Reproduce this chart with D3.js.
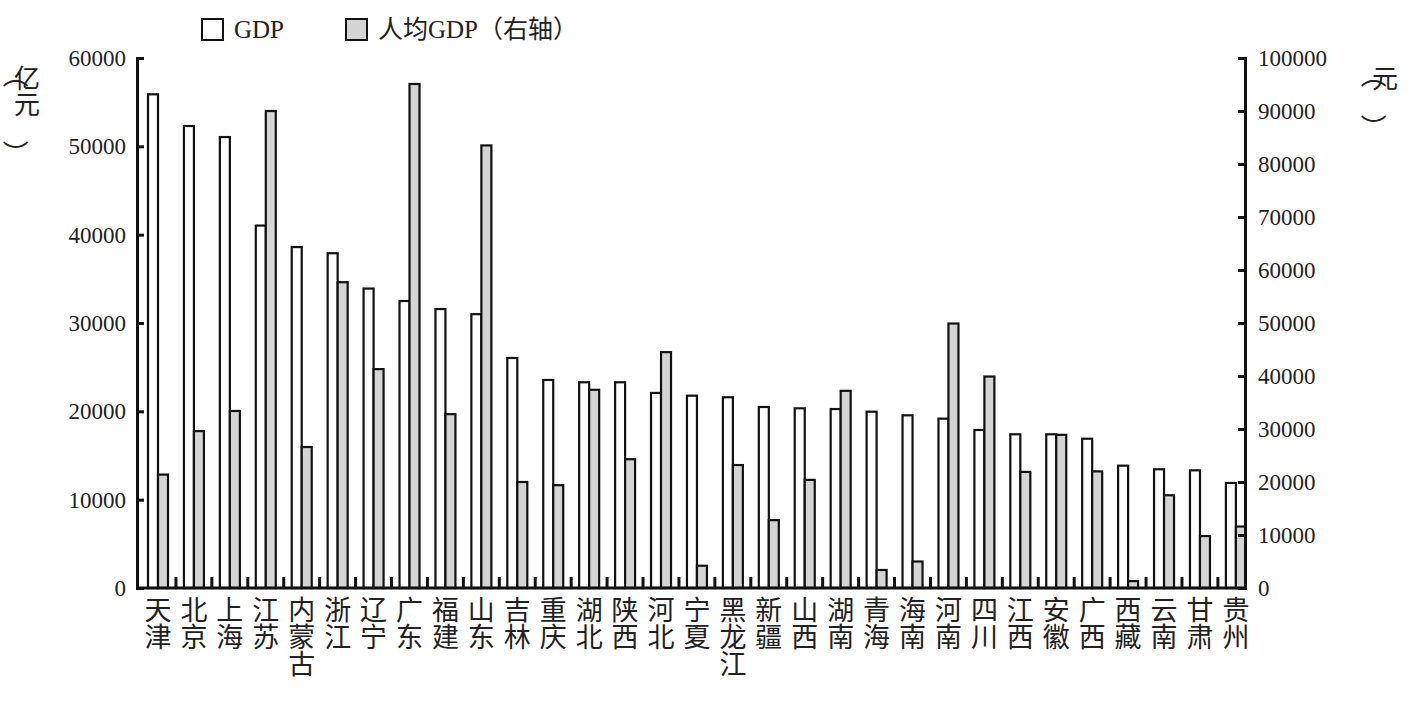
<!DOCTYPE html>
<html><head><meta charset="utf-8">
<script src="https://cdn.jsdelivr.net/npm/d3@7"></script>
<style>body{margin:0;background:#fff}text{font-family:"Liberation Serif","Noto Sans CJK SC",serif;fill:#222}</style>
</head><body><svg id="c" width="1412" height="705"></svg>
<script>
const provinces = ['天津','北京','上海','江苏','内蒙古','浙江','辽宁','广东','福建','山东','吉林','重庆','湖北','陕西','河北','宁夏','黑龙江','新疆','山西','湖南','青海','海南','河南','四川','江西','安徽','广西','西藏','云南','甘肃','贵州'];
const gdp = [55890,52300,51050,41030,38600,37900,33900,32490,31580,31000,26040,23550,23290,23290,22080,21770,21590,20490,20340,20260,19960,19550,19170,17890,17400,17400,16900,13850,13440,13320,11890];
const gdpPerCapita = [21400,29600,33400,90000,26600,57700,41300,95100,32800,83500,20000,19400,37400,24300,44500,4200,23200,12800,20400,37200,3400,5000,49900,39900,21900,28900,22000,1300,17500,9800,11600];
const leftTicks = d3.range(0, 60001, 10000);
const rightTicks = d3.range(0, 100001, 10000);

const svg = d3.select('#c');
const plotLeft = 137, plotRight = 1245, plotTop = 58, plotBottom = 588;
const step = 35.93;

const x = d3.scaleBand().domain(provinces).range([140, 140 + step * provinces.length]);
const yL = d3.scaleLinear().domain([0, 60000]).range([plotBottom, plotTop]);
const yR = d3.scaleLinear().domain([0, 100000]).range([plotBottom, plotTop]);
const bw = 10;

// bars
svg.append('g').selectAll('rect').data(provinces).join('rect')
	.attr('x', d => x(d) + 8).attr('width', bw)
	.attr('y', (d, i) => yL(gdp[i])).attr('height', (d, i) => plotBottom - yL(gdp[i]))
	.attr('fill', '#fff').attr('stroke', '#111').attr('stroke-width', 2.2);
svg.append('g').selectAll('rect').data(provinces).join('rect')
	.attr('x', d => x(d) + 8 + bw).attr('width', bw)
	.attr('y', (d, i) => yR(gdpPerCapita[i])).attr('height', (d, i) => plotBottom - yR(gdpPerCapita[i]))
	.attr('fill', '#d4d4d4').attr('stroke', '#111').attr('stroke-width', 2.2);

// axes
const axL = svg.append('g').attr('transform', `translate(${plotLeft},0)`)
	.call(d3.axisRight(yL).tickValues(leftTicks).tickSize(7).tickFormat(''));
const axR = svg.append('g').attr('transform', `translate(${plotRight},0)`)
	.call(d3.axisLeft(yR).tickValues(rightTicks).tickSize(7).tickFormat(''));
[axL, axR].forEach(a => {
	a.select('.domain').attr('stroke', '#111').attr('stroke-width', 3);
	a.selectAll('.tick line').attr('stroke', '#111').attr('stroke-width', 3);
});
svg.append('g').selectAll('text').data(leftTicks).join('text')
	.attr('x', 126).attr('y', d => yL(d) + 8).attr('text-anchor', 'end')
	.attr('font-size', 23).text(d => d);
svg.append('g').selectAll('text').data(rightTicks).join('text')
	.attr('x', 1258).attr('y', d => yR(d) + 8)
	.attr('font-size', 23).text(d => d);

// baseline and small separators
svg.append('line').attr('x1', plotLeft).attr('x2', plotRight).attr('y1', plotBottom).attr('y2', plotBottom)
	.attr('stroke', '#111').attr('stroke-width', 3);
svg.append('g').selectAll('line').data(provinces.slice(0, -1)).join('line')
	.attr('x1', d => x(d) + step).attr('x2', d => x(d) + step)
	.attr('y1', plotBottom).attr('y2', plotBottom - 11)
	.attr('stroke', '#111').attr('stroke-width', 3);

// category labels, vertical
const cat = svg.append('g').selectAll('text').data(provinces).join('text')
	.attr('font-size', 27).attr('text-anchor', 'middle');
cat.each(function(d) {
	const t = d3.select(this);
	[...d].forEach((ch, k) => {
		t.append('tspan').attr('x', x(d) + 18).attr('y', 620 + k * 27).text(ch);
	});
});

// unit labels
function vertical(str, cx, y0, size) {
	const g = svg.append('text').attr('font-size', size).attr('text-anchor', 'middle');
	[...str].forEach((ch, k) => {
		const isParen = ch === '（' || ch === '）';
		g.append('tspan').attr('x', cx).attr('y', y0 + k * size).text(ch)
			.attr('rotate', isParen ? 90 : 0)
			.attr('dx', isParen ? -8 : 0);
	});
}
vertical('（亿元）', 27, 62, 26);
vertical('（元）', 1385, 62, 26);

// legend
svg.append('rect').attr('x', 202).attr('y', 19).attr('width', 21).attr('height', 21)
	.attr('fill', '#fff').attr('stroke', '#111').attr('stroke-width', 2);
svg.append('text').attr('x', 234).attr('y', 38).attr('font-size', 25).text('GDP');
svg.append('rect').attr('x', 346).attr('y', 19).attr('width', 21).attr('height', 21)
	.attr('fill', '#d4d4d4').attr('stroke', '#111').attr('stroke-width', 2);
svg.append('text').attr('x', 378).attr('y', 38).attr('font-size', 25).text('人均GDP（右轴）');
</script></body></html>
